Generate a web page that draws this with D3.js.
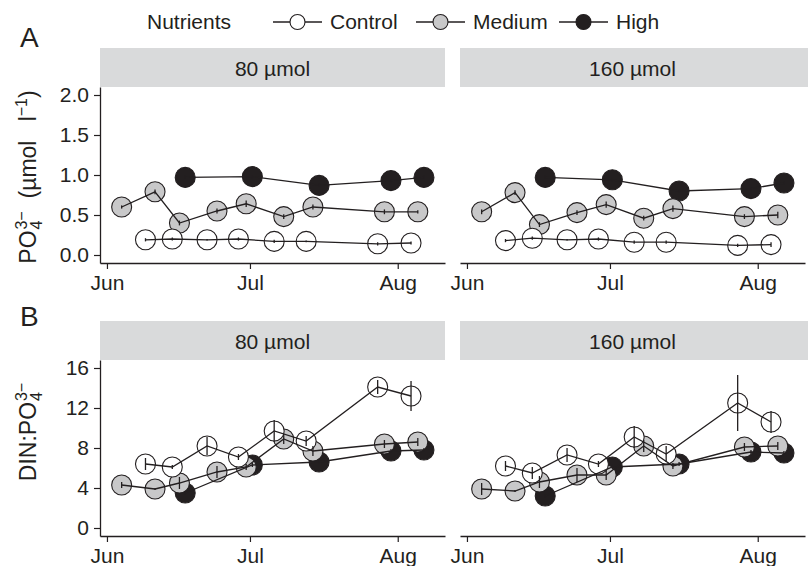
<!DOCTYPE html>
<html>
<head>
<meta charset="utf-8">
<script src="https://cdnjs.cloudflare.com/ajax/libs/d3/7.8.5/d3.min.js"></script>
<style>
body { margin: 0; background: #fff; }
svg { font-family: "Liberation Sans", Arial, Helvetica, sans-serif; }
</style>
</head>
<body>
<svg id="chart" width="808" height="566"></svg>
<script>
const parseT = d3.timeParse('%Y-%m-%d %H');

const nutrients = ['Control', 'Medium', 'High'];
const doses = ['80 µmol', '160 µmol'];
const monthTicks = ['2014-06-01 00', '2014-07-01 00', '2014-08-01 00'];
const po4Ticks = [0, 0.5, 1, 1.5, 2];
const ratioTicks = [0, 4, 8, 12, 16];

// sampling dates (slightly dodged per treatment)
const controlDates = ['2014-06-09 02', '2014-06-14 17', '2014-06-22 00', '2014-06-28 14',
  '2014-07-06 02', '2014-07-12 19', '2014-07-27 19', '2014-08-03 19'];
const mediumDates = ['2014-06-04 02', '2014-06-11 02', '2014-06-16 05', '2014-06-24 02',
  '2014-06-30 05', '2014-07-08 02', '2014-07-14 05', '2014-07-29 05', '2014-08-05 05'];
const highDates = ['2014-06-17 10', '2014-07-01 12', '2014-07-15 12', '2014-07-30 14', '2014-08-06 12'];

// A: PO4 (umol l-1)
const po4Control80 = [0.19, 0.20, 0.19, 0.20, 0.17, 0.17, 0.14, 0.15];
const po4Medium80 = [0.60, 0.79, 0.40, 0.55, 0.64, 0.48, 0.60, 0.54, 0.54];
const po4High80 = [0.97, 0.98, 0.87, 0.93, 0.97];
const po4Control160 = [0.18, 0.21, 0.19, 0.20, 0.16, 0.16, 0.12, 0.13];
const po4Medium160 = [0.54, 0.78, 0.38, 0.53, 0.63, 0.46, 0.58, 0.48, 0.50];
const po4High160 = [0.97, 0.94, 0.80, 0.83, 0.90];
const po4ErrControl80 = [0.02, 0.02, 0.01, 0.02, 0.02, 0.01, 0.02, 0.02];
const po4ErrMedium80 = [0.02, 0.03, 0.03, 0.03, 0.04, 0.03, 0.03, 0.03, 0.02];
const po4ErrHigh80 = [0.02, 0.02, 0.02, 0.02, 0.02];
const po4ErrControl160 = [0.02, 0.02, 0.01, 0.02, 0.02, 0.02, 0.02, 0.03];
const po4ErrMedium160 = [0.03, 0.03, 0.03, 0.03, 0.04, 0.03, 0.04, 0.03, 0.04];
const po4ErrHigh160 = [0.02, 0.02, 0.02, 0.02, 0.02];

// B: DIN:PO4
const ratioControl80 = [6.4, 6.1, 8.2, 7.1, 9.7, 8.7, 14.1, 13.2];
const ratioMedium80 = [4.3, 3.9, 4.5, 5.6, 6.1, 8.9, 7.7, 8.4, 8.6];
const ratioHigh80 = [3.5, 6.3, 6.6, 7.7, 7.8];
const ratioControl160 = [6.2, 5.5, 7.3, 6.4, 9.1, 7.4, 12.5, 10.6];
const ratioMedium160 = [3.9, 3.7, 4.6, 5.3, 5.3, 8.2, 6.2, 8.1, 8.2];
const ratioHigh160 = [3.2, 6.1, 6.4, 7.6, 7.5];
const ratioErrControl80 = [0.6, 0.2, 0.9, 0.3, 1.1, 0.5, 0.7, 1.5];
const ratioErrMedium80 = [0.3, 0.1, 0.6, 0.6, 0.3, 0.5, 0.5, 0.4, 0.4];
const ratioErrHigh80 = [0.2, 0.2, 0.2, 0.2, 0.2];
const ratioErrControl160 = [0.5, 0.6, 0.7, 0.3, 1.1, 0.8, 2.8, 1.1];
const ratioErrMedium160 = [0.6, 0.1, 0.6, 0.7, 0.5, 0.6, 0.3, 0.4, 0.4];
const ratioErrHigh160 = [0.2, 0.2, 0.2, 0.2, 0.2];

const ink = '#231f20';
const fills = { Control: '#ffffff', Medium: '#c8c8c9', High: '#231f20' };
const datesBy = { Control: controlDates, Medium: mediumDates, High: highDates };

const rows = [
  { label: 'A', top: 48, labelY: 47, ticks: po4Ticks, domain: [-0.1, 2.1], fmt: d3.format('.1f'),
    values: [[po4Control80, po4Medium80, po4High80], [po4Control160, po4Medium160, po4High160]],
    errs: [[po4ErrControl80, po4ErrMedium80, po4ErrHigh80], [po4ErrControl160, po4ErrMedium160, po4ErrHigh160]] },
  { label: 'B', top: 321, labelY: 326, ticks: ratioTicks, domain: [-0.8, 16.8], fmt: d3.format('d'),
    values: [[ratioControl80, ratioMedium80, ratioHigh80], [ratioControl160, ratioMedium160, ratioHigh160]],
    errs: [[ratioErrControl80, ratioErrMedium80, ratioErrHigh80], [ratioErrControl160, ratioErrMedium160, ratioErrHigh160]] }
];

const svg = d3.select('#chart');
const panelX = [100, 460];
const panelW = 345;
const stripH = 39;
const plotH = 176;
const fontSize = 21;

const x0 = d3.scaleTime()
  .domain([parseT('2014-05-30 13'), parseT('2014-08-10 22')])
  .range([0, panelW]);

rows.forEach(row => {
  const plotTop = row.top + stripH;
  const y = d3.scaleLinear().domain(row.domain).range([plotTop + plotH, plotTop]);

  svg.append('text')
    .attr('x', 20).attr('y', row.labelY)
    .attr('font-size', 28).attr('fill', ink)
    .text(row.label);

  doses.forEach((dose, di) => {
    const left = panelX[di];
    const x = x0.copy().range([left, left + panelW]);
    const g = svg.append('g');

    // strip
    g.append('rect')
      .attr('x', left).attr('y', row.top)
      .attr('width', di === 1 ? 808 - left : panelW).attr('height', stripH)
      .attr('fill', '#d9dadb');
    g.append('text')
      .attr('x', left + panelW / 2).attr('y', row.top + 28)
      .attr('text-anchor', 'middle').attr('font-size', fontSize).attr('fill', ink)
      .text(dose);

    // x axis
    const xa = g.append('g')
      .attr('transform', `translate(0,${plotTop + plotH})`)
      .call(d3.axisBottom(x)
        .tickValues(monthTicks.map(parseT))
        .tickFormat(d3.timeFormat('%b'))
        .tickSize(6).tickSizeOuter(0).tickPadding(6));
    if (di === 0) {
      const ya = g.append('g')
        .attr('transform', `translate(${left},0)`)
        .call(d3.axisLeft(y).tickValues(row.ticks).tickFormat(row.fmt)
          .tickSize(6).tickSizeOuter(0).tickPadding(5));
      styleAxis(ya);
    }
    styleAxis(xa);

    const series = nutrients.map((n, ni) => ({
      name: n,
      pts: datesBy[n].map((d, i) => ({ date: parseT(d), v: row.values[di][ni][i], e: row.errs[di][ni][i] }))
    }));
    const drawOrder = [series[2], series[1], series[0]];

    drawOrder.forEach(s => {
      g.selectAll(null).data(s.pts).enter().append('circle')
        .attr('cx', d => x(d.date)).attr('cy', d => y(d.v)).attr('r', 10)
        .attr('fill', fills[s.name]).attr('stroke', ink).attr('stroke-width', 1.1);
    });

    const line = d3.line().x(d => x(d.date)).y(d => y(d.v));
    drawOrder.forEach(s => {
      g.append('path').datum(s.pts)
        .attr('d', line).attr('fill', 'none')
        .attr('stroke', ink).attr('stroke-width', 1.3);
      g.selectAll(null).data(s.pts).enter().append('line')
        .attr('x1', d => x(d.date)).attr('x2', d => x(d.date))
        .attr('y1', d => y(d.v - d.e)).attr('y2', d => y(d.v + d.e))
        .attr('stroke', ink).attr('stroke-width', 1.3);
    });
  });
});

function styleAxis(a) {
  a.attr('font-size', null).attr('font-family', null);
  a.selectAll('path.domain').attr('stroke', ink).attr('stroke-width', 1.3);
  a.selectAll('.tick line').attr('stroke', ink).attr('stroke-width', 1.2);
  a.selectAll('.tick text').attr('fill', ink).attr('font-size', fontSize);
}

// y axis titles
const titleSize = 23;
const scriptSize = 16;
const titleA = svg.append('text')
  .attr('transform', 'translate(36,177) rotate(-90)')
  .attr('text-anchor', 'middle').attr('font-size', titleSize).attr('fill', ink)
  .style('white-space', 'pre');
titleA.append('tspan').text('PO');
titleA.append('tspan').attr('font-size', scriptSize).attr('dx', 1).attr('dy', 6).text('4');
titleA.append('tspan').attr('font-size', scriptSize).attr('dx', -9).attr('dy', -15).text('3−');
titleA.append('tspan').attr('dy', 9).text('  (µmol   l');
titleA.append('tspan').attr('font-size', scriptSize).attr('dy', -9).text('−1');
titleA.append('tspan').attr('dy', 9).text(')');

const titleB = svg.append('text')
  .attr('transform', 'translate(36,432) rotate(-90)')
  .attr('text-anchor', 'middle').attr('font-size', titleSize).attr('fill', ink);
titleB.append('tspan').text('DIN:PO');
titleB.append('tspan').attr('font-size', scriptSize).attr('dx', 1).attr('dy', 6).text('4');
titleB.append('tspan').attr('font-size', scriptSize).attr('dx', -9).attr('dy', -15).text('3−');

// legend
const legend = svg.append('g');
legend.append('text')
  .attr('x', 147).attr('y', 29).attr('font-size', fontSize).attr('fill', ink)
  .text('Nutrients');
const legendX = [273, 416, 559];
nutrients.forEach((n, i) => {
  const lx = legendX[i];
  legend.append('line')
    .attr('x1', lx).attr('x2', lx + 49).attr('y1', 22).attr('y2', 22)
    .attr('stroke', ink).attr('stroke-width', 1.3);
  legend.append('circle')
    .attr('cx', lx + 24.5).attr('cy', 22).attr('r', 7.5)
    .attr('fill', fills[n]).attr('stroke', ink).attr('stroke-width', 1.1);
  legend.append('text')
    .attr('x', lx + 57).attr('y', 29).attr('font-size', fontSize).attr('fill', ink)
    .text(n);
});
</script>
</body>
</html>
